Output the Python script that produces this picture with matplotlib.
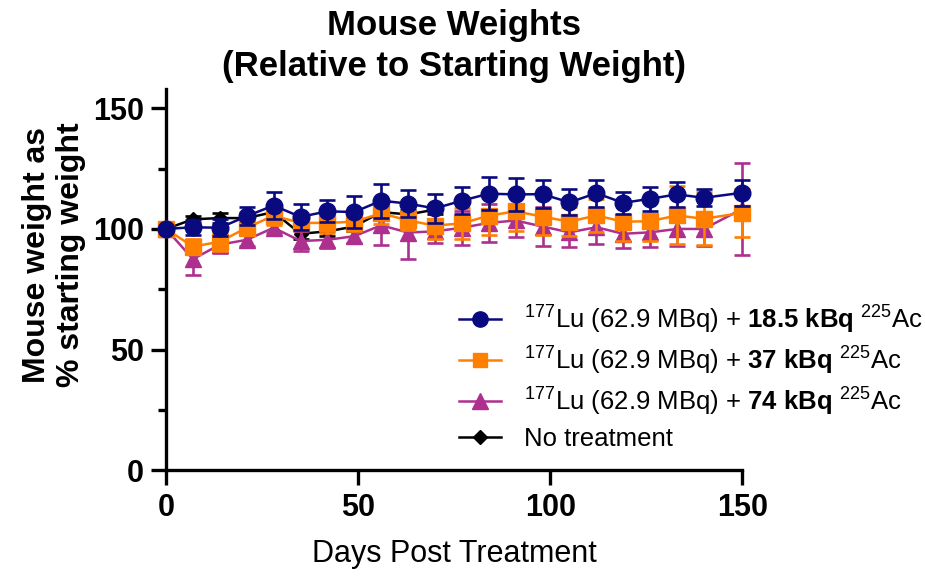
import matplotlib
matplotlib.use("Agg")
import matplotlib.pyplot as plt
from matplotlib.lines import Line2D

plt.rcParams['font.family'] = ['Liberation Sans', 'DejaVu Sans']
plt.rcParams['mathtext.fontset'] = 'custom'
plt.rcParams['mathtext.rm'] = 'Liberation Sans'
plt.rcParams['mathtext.bf'] = 'Liberation Sans:bold'
plt.rcParams['mathtext.it'] = 'Liberation Sans:italic'

days = [0, 7, 14, 21, 28, 35, 42, 49, 56, 63, 70, 77, 84, 91, 98, 105, 112, 119, 126, 133, 140, 150]

ac185_mean = [100, 100.7, 100.5, 105.3, 109.7, 105, 107.3, 107, 111.7, 110.5, 108.5, 111.7,
              114.6, 114.3, 114.4, 111, 114.8, 110.8, 112.5, 114.3, 112.9, 115]
ac185_err = [0, 3, 3.5, 3.8, 5.5, 5.5, 4.5, 6.8, 7, 5.5, 6, 5.7,
             6.8, 6.7, 5.7, 5.4, 5.6, 4.7, 4.9, 5.1, 3.5, 5.4]

ac37_mean = [100, 92.7, 94.7, 100.5, 105.5, 102.5, 102.5, 103, 106.5, 103.5, 101.4, 102.3,
             105.5, 107.3, 105.1, 103, 105.6, 103, 103.2, 105.6, 104.2, 106.7]
ac37_err = [0, 3, 4, 2.5, 4, 3, 4, 4, 4.5, 4, 5.6, 6.5,
            8, 8, 7.6, 6, 7, 8, 8, 12, 11, 10]

ac74_mean = [100, 87.5, 93.5, 95.5, 100.5, 95, 95.5, 97, 101.5, 98.5, 99, 100.5,
             102.5, 103.5, 101, 98.6, 100.7, 98, 98.6, 100, 100, 108.3]
ac74_err = [0, 6.5, 3.5, 2.5, 2, 4, 3.5, 3, 8, 11, 5, 7,
            8, 7, 8, 6, 7, 6, 6, 7, 7, 19]

ctrl_days = [0, 7, 14, 21, 28, 35, 42, 49, 56, 63, 70]
ctrl_mean = [100, 104, 104.5, 104.5, 107, 98, 99, 101, 107, 106, 108]
ctrl_err = [0, 1.5, 2, 2, 2, 2, 2, 2, 2, 2, 2]

labels = [r"$^{177}$Lu (62.9 MBq) + $\mathbf{18.5\ kBq}$ $^{225}$Ac",
          r"$^{177}$Lu (62.9 MBq) + $\mathbf{37\ kBq}$ $^{225}$Ac",
          r"$^{177}$Lu (62.9 MBq) + $\mathbf{74\ kBq}$ $^{225}$Ac",
          "No treatment"]

fig = plt.figure(figsize=(9.25, 5.77), dpi=100)
ax = fig.add_axes([0.1795, 0.1846, 0.623, 0.6614])

navy = '#0a0a80'
orange = '#ff8000'
magenta = '#ad2f8e'

common = dict(linewidth=1.8, elinewidth=1.9, capsize=6, capthick=1.9, clip_on=False)

ax.errorbar(ctrl_days, ctrl_mean, yerr=ctrl_err, color='black', marker='D', markersize=7,
            zorder=2, **common)
ax.errorbar(days, ac74_mean, yerr=ac74_err, color=magenta, marker='^', markersize=12,
            zorder=3, **common)
ax.errorbar(days, ac37_mean, yerr=ac37_err, color=orange, marker='s', markersize=11,
            zorder=4, **common)
ax.errorbar(days, ac185_mean, yerr=ac185_err, color=navy, marker='o', markersize=12,
            zorder=5, **common)

handles = [Line2D([], [], color=navy, marker='o', markersize=11, linewidth=1.8),
           Line2D([], [], color=orange, marker='s', markersize=10, linewidth=1.8),
           Line2D([], [], color=magenta, marker='^', markersize=11, linewidth=1.8),
           Line2D([], [], color='black', marker='D', markersize=7, linewidth=1.8)]

ax.set_xlim(0, 150)
ax.set_ylim(0, 158)
ax.set_xticks([0, 50, 100, 150])
ax.set_yticks([0, 50, 100, 150])
ax.set_yticks([25, 75, 125], minor=True)
for s in ['top', 'right']:
    ax.spines[s].set_visible(False)
for s in ['left', 'bottom']:
    ax.spines[s].set_linewidth(2.4)
ax.tick_params(axis='both', which='major', length=11, width=2.4, labelsize=22, pad=5)
ax.tick_params(axis='y', which='minor', length=6, width=2.4)
for lab in ax.get_xticklabels() + ax.get_yticklabels():
    lab.set_fontweight('bold')

ax.set_xlabel('Days Post Treatment', fontsize=22, labelpad=12)
ax.set_ylabel('Mouse weight as\n% starting weight', fontsize=23, fontweight='bold',
              linespacing=1.18)
ax.yaxis.set_label_coords(-0.139, 0.565)
ax.set_title('Mouse Weights\n(Relative to Starting Weight)', fontsize=25, fontweight='bold',
             pad=9, linespacing=1.32)

ax.legend(handles, labels, loc='upper left', bbox_to_anchor=(0.49, 0.465),
          frameon=False, fontsize=18.5, handlelength=1.65, handletextpad=0.9,
          labelspacing=0.35, borderaxespad=0)

fig.savefig('out.png', dpi=100)
